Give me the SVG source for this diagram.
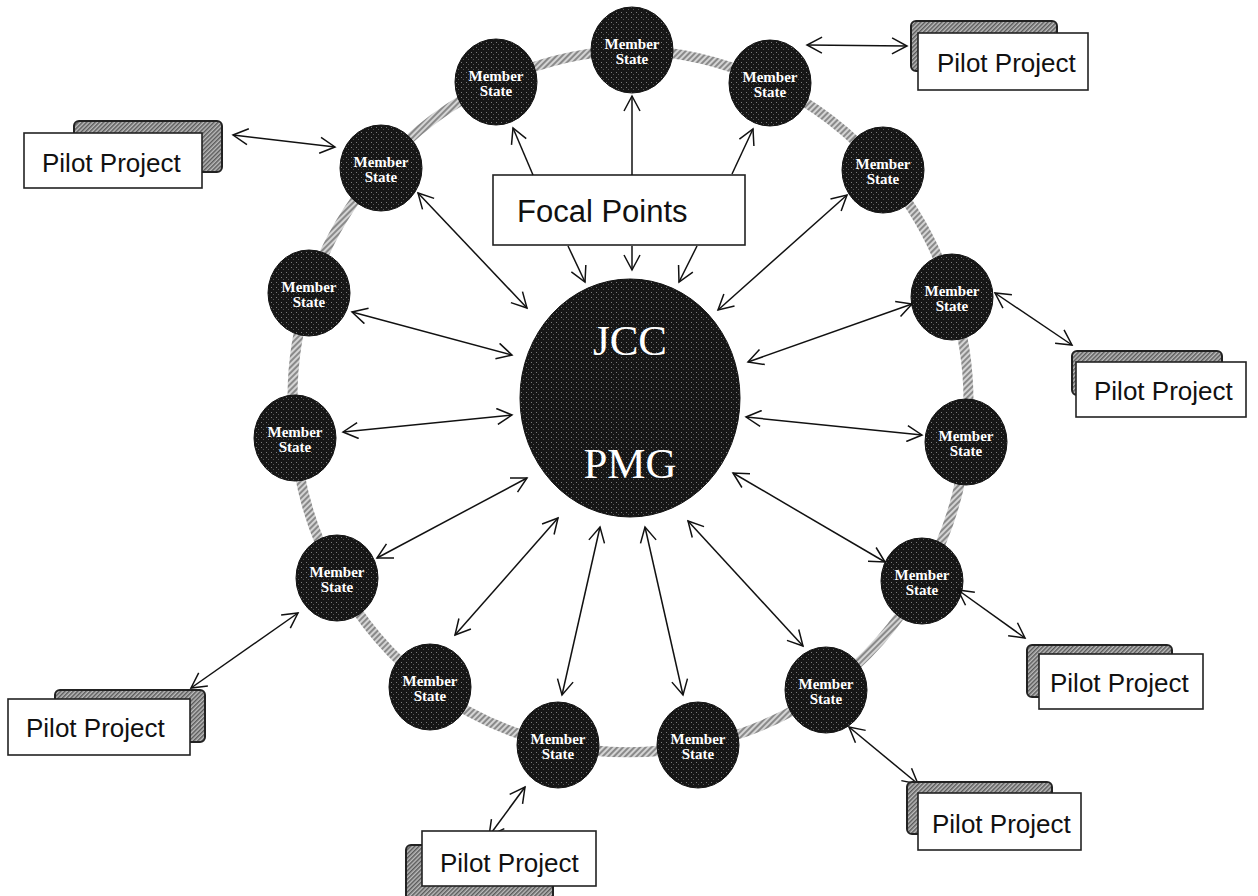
<svg xmlns="http://www.w3.org/2000/svg" width="1258" height="896" viewBox="0 0 1258 896">
<defs>
<pattern id="ringHatch" width="4" height="4" patternUnits="userSpaceOnUse" patternTransform="rotate(45)"><rect width="4" height="4" fill="#d4d4d4"/><rect width="2" height="4" fill="#8a8a8a"/></pattern>
<pattern id="speckle" width="5" height="5" patternUnits="userSpaceOnUse"><rect width="5" height="5" fill="#161616"/><rect x="1" y="2" width="1" height="1" fill="#7a7a7a"/><rect x="3" y="4" width="1" height="1" fill="#555"/></pattern>
<pattern id="boxHatch" width="3" height="3" patternUnits="userSpaceOnUse" patternTransform="rotate(45)"><rect width="3" height="3" fill="#bcbcbc"/><rect width="1.5" height="3" fill="#5a5a5a"/></pattern>
<marker id="ah" viewBox="0 0 18 18" markerWidth="18" markerHeight="18" refX="16" refY="9" orient="auto-start-reverse" markerUnits="userSpaceOnUse"><path d="M1,1 L16,9 L1,17" fill="none" stroke="#111" stroke-width="1.5"/></marker>
<style>
.ms{fill:url(#speckle);stroke:#111;stroke-width:1}
.mst{font-family:"Liberation Serif","Times New Roman",serif;font-weight:bold;font-size:15px;fill:#fff;text-anchor:middle}
.back{fill:url(#boxHatch);stroke:#222;stroke-width:2}
.front{fill:#fff;stroke:#222;stroke-width:1.6}
.ppt{font-family:"Liberation Sans",Arial,sans-serif;font-size:26px;fill:#111}
.ar{fill:none;stroke:#111;stroke-width:1.5;marker-end:url(#ah)}
.ar2{fill:none;stroke:#111;stroke-width:1.5;marker-end:url(#ah);marker-start:url(#ah)}
</style>
</defs>
<rect width="1258" height="896" fill="#fff"/>
<g id="ring">
<path d="M632,50 A340,340 0 0 1 770,83 A340,340 0 0 1 883,170 A340,340 0 0 1 952,297 A340,340 0 0 1 966,442 A340,340 0 0 1 922,581 A340,340 0 0 1 826,690 A340,340 0 0 1 698,745 A340,340 0 0 1 558,745 A340,340 0 0 1 430,687 A340,340 0 0 1 337,578 A340,340 0 0 1 295,438 A340,340 0 0 1 309,293 A340,340 0 0 1 381,168 A340,340 0 0 1 496,82 A340,340 0 0 1 632,50 Z" fill="none" stroke="url(#ringHatch)" stroke-width="10"/>
</g>
<g id="jcc-pmg">
<ellipse cx="630" cy="398" rx="110" ry="119" fill="url(#speckle)" stroke="#111"/>
<text x="630" y="355" font-family="Liberation Serif, Times New Roman, serif" font-size="43" fill="#fff" text-anchor="middle">JCC</text>
<text x="630" y="478" font-family="Liberation Serif, Times New Roman, serif" font-size="43" fill="#fff" text-anchor="middle">PMG</text>
</g>
<g id="ms1"><ellipse class="ms" cx="632" cy="50" rx="41" ry="43"/><text class="mst" x="632" y="49">Member</text><text class="mst" x="632" y="64">State</text></g>
<g id="ms2"><ellipse class="ms" cx="496" cy="82" rx="41" ry="43"/><text class="mst" x="496" y="81">Member</text><text class="mst" x="496" y="96">State</text></g>
<g id="ms3"><ellipse class="ms" cx="770" cy="83" rx="41" ry="43"/><text class="mst" x="770" y="82">Member</text><text class="mst" x="770" y="97">State</text></g>
<g id="ms4"><ellipse class="ms" cx="381" cy="168" rx="41" ry="43"/><text class="mst" x="381" y="167">Member</text><text class="mst" x="381" y="182">State</text></g>
<g id="ms5"><ellipse class="ms" cx="883" cy="170" rx="41" ry="43"/><text class="mst" x="883" y="169">Member</text><text class="mst" x="883" y="184">State</text></g>
<g id="ms6"><ellipse class="ms" cx="309" cy="293" rx="41" ry="43"/><text class="mst" x="309" y="292">Member</text><text class="mst" x="309" y="307">State</text></g>
<g id="ms7"><ellipse class="ms" cx="952" cy="297" rx="41" ry="43"/><text class="mst" x="952" y="296">Member</text><text class="mst" x="952" y="311">State</text></g>
<g id="ms8"><ellipse class="ms" cx="295" cy="438" rx="41" ry="43"/><text class="mst" x="295" y="437">Member</text><text class="mst" x="295" y="452">State</text></g>
<g id="ms9"><ellipse class="ms" cx="966" cy="442" rx="41" ry="43"/><text class="mst" x="966" y="441">Member</text><text class="mst" x="966" y="456">State</text></g>
<g id="ms10"><ellipse class="ms" cx="337" cy="578" rx="41" ry="43"/><text class="mst" x="337" y="577">Member</text><text class="mst" x="337" y="592">State</text></g>
<g id="ms11"><ellipse class="ms" cx="922" cy="581" rx="41" ry="43"/><text class="mst" x="922" y="580">Member</text><text class="mst" x="922" y="595">State</text></g>
<g id="ms12"><ellipse class="ms" cx="430" cy="687" rx="41" ry="43"/><text class="mst" x="430" y="686">Member</text><text class="mst" x="430" y="701">State</text></g>
<g id="ms13"><ellipse class="ms" cx="826" cy="690" rx="41" ry="43"/><text class="mst" x="826" y="689">Member</text><text class="mst" x="826" y="704">State</text></g>
<g id="ms14"><ellipse class="ms" cx="558" cy="745" rx="41" ry="43"/><text class="mst" x="558" y="744">Member</text><text class="mst" x="558" y="759">State</text></g>
<g id="ms15"><ellipse class="ms" cx="698" cy="745" rx="41" ry="43"/><text class="mst" x="698" y="744">Member</text><text class="mst" x="698" y="759">State</text></g>
<g id="focal-points">
<rect x="493" y="175" width="252" height="70" fill="#fff" stroke="#222" stroke-width="1.6"/>
<text x="517" y="222" font-family="Liberation Sans, Arial, sans-serif" font-size="31" fill="#111">Focal Points</text>
</g>
<g id="connectors">
<path class="ar" d="M533,175 L513,128"/>
<path class="ar" d="M632,175 L632,96"/>
<path class="ar" d="M732,174 L753,129"/>
<path class="ar" d="M568,246 L585,282"/>
<path class="ar" d="M632,246 L632,270"/>
<path class="ar" d="M697,246 L679,282"/>
<path class="ar2" d="M418,193 L527,308"/>
<path class="ar2" d="M847,195 L718,310"/>
<path class="ar2" d="M352,312 L512,355"/>
<path class="ar2" d="M912,304 L748,362"/>
<path class="ar2" d="M343,432 L512,415"/>
<path class="ar2" d="M922,435 L746,417"/>
<path class="ar2" d="M377,558 L527,478"/>
<path class="ar2" d="M885,562 L733,473"/>
<path class="ar2" d="M455,635 L558,518"/>
<path class="ar2" d="M803,646 L688,521"/>
<path class="ar2" d="M562,695 L600,527"/>
<path class="ar2" d="M683,695 L645,527"/>
<path class="ar2" d="M807,45 L907,46"/>
<path class="ar2" d="M233,135 L335,147"/>
<path class="ar2" d="M995,293 L1072,345"/>
<path class="ar2" d="M958,590 L1025,638"/>
<path class="ar2" d="M849,727 L918,784"/>
<path class="ar2" d="M298,613 L191,688"/>
<path class="ar2" d="M489,836 L525,787"/>
</g>
<g id="pp1"><rect class="back" x="911" y="21" width="146" height="50" rx="5"/><rect class="front" x="918" y="33" width="170" height="57"/><text class="ppt" x="937" y="72">Pilot Project</text></g>
<g id="pp2"><rect class="back" x="74" y="121" width="148" height="51" rx="5"/><rect class="front" x="24" y="133" width="178" height="55"/><text class="ppt" x="42" y="172">Pilot Project</text></g>
<g id="pp3"><rect class="back" x="1072" y="351" width="150" height="44" rx="5"/><rect class="front" x="1076" y="362" width="170" height="55"/><text class="ppt" x="1094" y="400">Pilot Project</text></g>
<g id="pp4"><rect class="back" x="1027" y="645" width="145" height="52" rx="5"/><rect class="front" x="1039" y="654" width="164" height="55"/><text class="ppt" x="1050" y="692">Pilot Project</text></g>
<g id="pp5"><rect class="back" x="907" y="782" width="145" height="52" rx="5"/><rect class="front" x="918" y="793" width="163" height="57"/><text class="ppt" x="932" y="833">Pilot Project</text></g>
<g id="pp6"><rect class="back" x="55" y="690" width="150" height="52" rx="5"/><rect class="front" x="8" y="699" width="182" height="56"/><text class="ppt" x="26" y="737">Pilot Project</text></g>
<g id="pp7"><rect class="back" x="406" y="845" width="147" height="60" rx="5"/><rect class="front" x="422" y="831" width="174" height="55"/><text class="ppt" x="440" y="872">Pilot Project</text></g>
</svg>
